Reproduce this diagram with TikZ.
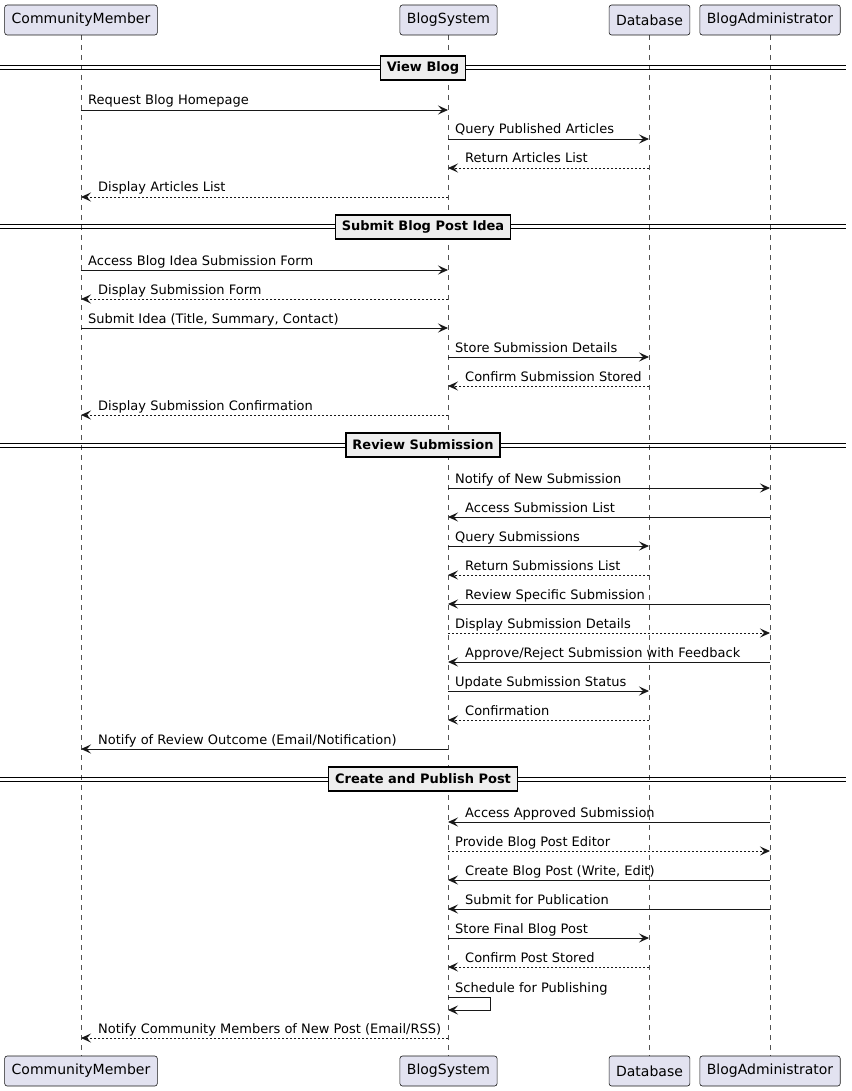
\documentclass[tikz,border=0pt]{standalone}
\usepackage{fontspec}
\setmainfont{DejaVu Sans}
\usetikzlibrary{arrows.meta,calc}
\definecolor{partfill}{HTML}{E2E2F0}
\definecolor{ink}{HTML}{181818}
\definecolor{divfill}{HTML}{EEEEEE}
\tikzset{
  part/.style={draw=ink, fill=partfill, rounded corners=2.5pt, minimum height=30pt, inner xsep=7pt, inner ysep=0pt, font=\fontsize{14}{16}\selectfont, line width=0.6pt},
  life/.style={draw=ink!75, line width=0.5pt, dash pattern=on 5pt off 5pt},
  msg/.style={draw=ink, line width=0.9pt, -{Stealth[length=10pt,width=9pt,inset=4pt]}},
  ret/.style={msg, dash pattern=on 2pt off 2pt},
  lbl/.style={inner sep=0pt, anchor=base west, font=\fontsize{13}{15}\selectfont, text=black},
  divbox/.style={draw=black, fill=divfill, line width=1.5pt, inner xsep=6.5pt, inner ysep=0pt, minimum height=24pt, font=\bfseries\fontsize{13}{15}\selectfont},
  dline/.style={draw=black, line width=1pt},
}
% message macros: #1 style, #2 from, #3 to, #4 y, #5 label
\newcommand\msgR[5][msg]{%
  \draw[#1] ($(#2)+(0,#4)$) -- ($(#3)+(0,#4)$);
  \node[lbl] at ($(#2)+(7,#4-5)$) {#5};}
\newcommand\msgL[5][msg]{%
  \draw[#1] ($(#2)+(0,#4)$) -- ($(#3)+(0,#4)$);
  \node[lbl] at ($(#3)+(17,#4-5)$) {#5};}
\newcommand\divider[3]{%
  \draw[dline] (0,#2-2) -- (846,#2-2);
  \draw[dline] (0,#2+2) -- (846,#2+2);
  \node[divbox] (#1) at (423,#2) {#3};}
\begin{document}
\begin{tikzpicture}[x=1pt,y=-1pt]
\useasboundingbox (0,0) rectangle (851,1091);
% lifeline coordinates
\coordinate (CM) at (81,0);
\coordinate (BS) at (448,0);
\coordinate (DB) at (649,0);
\coordinate (BA) at (770,0);
\foreach \c in {CM,BS,DB,BA} {\draw[life] ($(\c)+(0,35)$) -- ($(\c)+(0,1056)$);}
% participants
\node[part] (cmT) at (81,20) {CommunityMember};
\node[part] (bsT) at (448.5,20) {BlogSystem};
\node[part] (dbT) at (649.5,20) {Database};
\node[part] (baT) at (770,20) {BlogAdministrator};
\node[part] (cmB) at (81,1071) {CommunityMember};
\node[part] (bsB) at (448.5,1071) {BlogSystem};
\node[part] (dbB) at (649.5,1071) {Database};
\node[part] (baB) at (770,1071) {BlogAdministrator};

\divider{d1}{68}{View Blog}
\msgR{CM}{BS}{110}{Request Blog Homepage}
\msgR{BS}{DB}{139}{Query Published Articles}
\msgL[ret]{DB}{BS}{168}{Return Articles List}
\msgL[ret]{BS}{CM}{197}{Display Articles List}

\divider{d2}{227}{Submit Blog Post Idea}
\msgR{CM}{BS}{270}{Access Blog Idea Submission Form}
\msgL[ret]{BS}{CM}{299}{Display Submission Form}
\msgR{CM}{BS}{328}{Submit Idea (Title, Summary, Contact)}
\msgR{BS}{DB}{357}{Store Submission Details}
\msgL[ret]{DB}{BS}{386}{Confirm Submission Stored}
\msgL[ret]{BS}{CM}{415}{Display Submission Confirmation}

\divider{d3}{445}{Review Submission}
\msgR{BS}{BA}{488}{Notify of New Submission}
\msgL{BA}{BS}{517}{Access Submission List}
\msgR{BS}{DB}{546}{Query Submissions}
\msgL[ret]{DB}{BS}{575}{Return Submissions List}
\msgL{BA}{BS}{604}{Review Specific Submission}
\msgR[ret]{BS}{BA}{633}{Display Submission Details}
\msgL{BA}{BS}{662}{Approve/Reject Submission with Feedback}
\msgR{BS}{DB}{691}{Update Submission Status}
\msgL[ret]{DB}{BS}{720}{Confirmation}
\msgL{BS}{CM}{749}{Notify of Review Outcome (Email/Notification)}

\divider{d4}{779}{Create and Publish Post}
\msgL{BA}{BS}{822}{Access Approved Submission}
\msgR[ret]{BS}{BA}{851}{Provide Blog Post Editor}
\msgL{BA}{BS}{880}{Create Blog Post (Write, Edit)}
\msgL{BA}{BS}{909}{Submit for Publication}
\msgR{BS}{DB}{938}{Store Final Blog Post}
\msgL[ret]{DB}{BS}{967}{Confirm Post Stored}
\draw[msg] ($(BS)+(0,997)$) -- ($(BS)+(42,997)$) -- ($(BS)+(42,1010)$) -- ($(BS)+(0,1010)$);
\node[lbl] at ($(BS)+(7,992)$) {Schedule for Publishing};
\msgL[ret]{BS}{CM}{1038}{Notify Community Members of New Post (Email/RSS)}
\end{tikzpicture}
\end{document}
